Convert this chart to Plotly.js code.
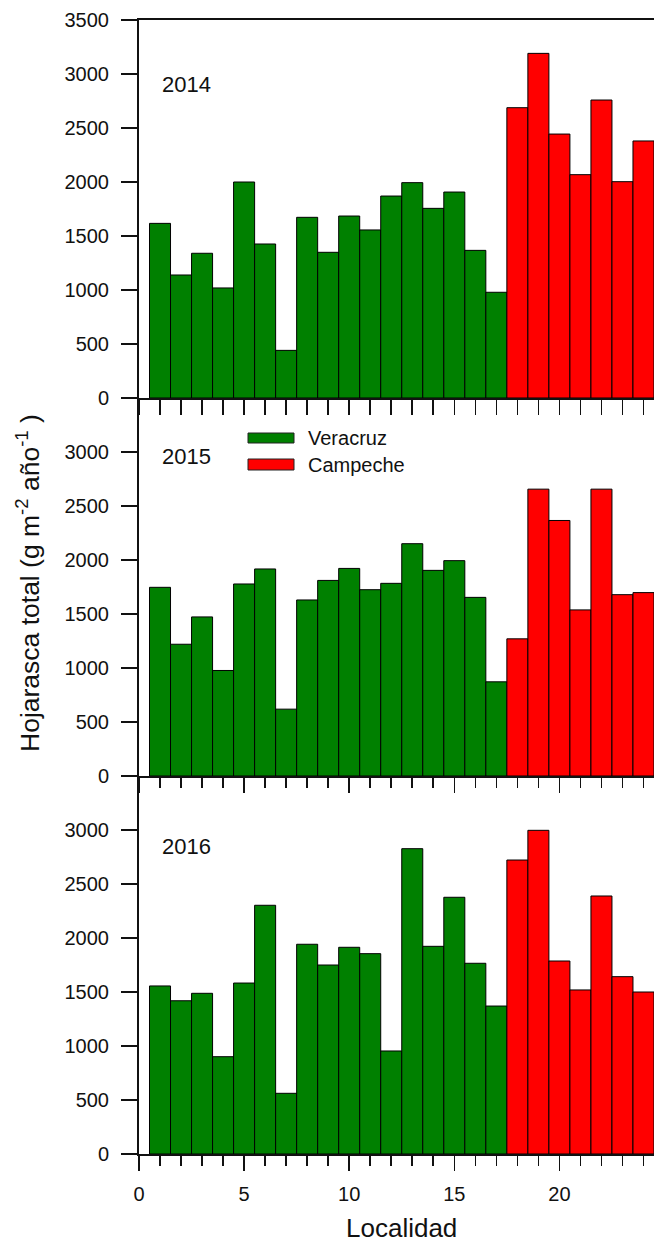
<!DOCTYPE html>
<html>
<head>
<meta charset="utf-8">
<script src="https://cdn.plot.ly/plotly-3.0.1.min.js"></script>
<style>html,body{margin:0;padding:0;background:#fff;}#chart{width:656px;height:1244px;}</style>
</head>
<body>
<div id="chart"></div>
<script>
// ---- data ----
const localidadVeracruz = [1,2,3,4,5,6,7,8,9,10,11,12,13,14,15,16,17];
const localidadCampeche = [18,19,20,21,22,23,24];
const years = ["2014", "2015", "2016"];
const veracruz2014 = [1617,1139,1340,1019,2000,1426,441,1673,1349,1685,1556,1870,1994,1756,1907,1367,979];
const campeche2014 = [2688,3191,2444,2068,2759,2003,2380];
const veracruz2015 = [1747,1220,1473,977,1778,1917,619,1630,1811,1922,1725,1784,2151,1904,1994,1654,872];
const campeche2015 = [1270,2656,2366,1538,2656,1679,1698];
const veracruz2016 = [1556,1419,1488,901,1583,2303,562,1942,1750,1914,1855,954,2827,1923,2377,1766,1370];
const campeche2016 = [2722,2997,1787,1519,2389,1642,1500];
const seriesNames = ["Veracruz", "Campeche"];
const yTicksTop = [0,500,1000,1500,2000,2500,3000,3500];
const yTicksOther = [0,500,1000,1500,2000,2500,3000];
const xTicks = [0,5,10,15,20];

// ---- styling ----
const FONT = "Liberation Sans, Arial, sans-serif";
const GREEN = "#008000", RED = "#ff0000";
const W = 656, H = 1244, ML = 139, MR = 2, MT = 20, MB = 90;
const PW = W - ML - MR, PH = H - MT - MB;
const px = x => (x - ML) / PW;
const py = y => (H - MB - y) / PH;

function bars(x, y, color, xa, ya) {
  return {type: "bar", x: x, y: y, width: 1, xaxis: xa, yaxis: ya,
    marker: {color: color, line: {color: "#000", width: 1}}, showlegend: false, hoverinfo: "x+y"};
}

const data = [
  bars(localidadVeracruz, veracruz2014, GREEN, "x3", "y3"),
  bars(localidadCampeche, campeche2014, RED, "x3", "y3"),
  bars(localidadVeracruz, veracruz2015, GREEN, "x2", "y2"),
  bars(localidadCampeche, campeche2015, RED, "x2", "y2"),
  bars(localidadVeracruz, veracruz2016, GREEN, "x", "y"),
  bars(localidadCampeche, campeche2016, RED, "x", "y")
];

function xaxis(domainAnchor, showLabels, majorLen, minorLen, mirror) {
  return {
    anchor: domainAnchor, range: [0, 24.5], domain: [0, 1],
    tickmode: "array", tickvals: xTicks, ticktext: xTicks.map(String),
    showticklabels: showLabels, ticks: "outside", ticklen: majorLen, tickwidth: 1.6, tickcolor: "#111",
    minor: {tickmode: "linear", tick0: 0, dtick: 1, ticks: "outside", ticklen: minorLen, tickwidth: 1.6, tickcolor: "#111", showgrid: false},
    showline: true, linecolor: "#111", linewidth: 2, mirror: mirror,
    showgrid: false, zeroline: false, fixedrange: true,
    tickfont: {family: FONT, size: 20, color: "#111"}, ticklabelstandoff: 6
  };
}
function yaxis(anchor, domain, ticks) {
  return {
    anchor: anchor, domain: domain, range: [0, 3500],
    tickmode: "array", tickvals: ticks, ticktext: ticks.map(String),
    ticks: "outside", ticklen: 16, tickwidth: 1.6, tickcolor: "#111",
    showline: true, linecolor: "#111", linewidth: 2,
    showgrid: false, zeroline: false, fixedrange: true,
    tickfont: {family: FONT, size: 20, color: "#111"}, ticklabelstandoff: 8
  };
}

const annotations = [];
const labelY = [84, 456, 846];
years.forEach((yr, i) => annotations.push({xref: "paper", yref: "paper", x: px(160), y: py(labelY[i]),
  xanchor: "left", yanchor: "middle", text: yr, showarrow: false, font: {family: FONT, size: 22, color: "#111"}}));
annotations.push({xref: "paper", yref: "paper", x: px(306), y: py(438), xanchor: "left", yanchor: "middle",
  text: seriesNames[0], showarrow: false, font: {family: FONT, size: 20, color: "#111"}});
annotations.push({xref: "paper", yref: "paper", x: px(306), y: py(465), xanchor: "left", yanchor: "middle",
  text: seriesNames[1], showarrow: false, font: {family: FONT, size: 20, color: "#111"}});
annotations.push({xref: "paper", yref: "paper", x: px(28), y: py(583), xanchor: "center", yanchor: "middle",
  textangle: -90, text: "Hojarasca total (g m<sup>-2</sup> año<sup>-1</sup> )", showarrow: false,
  font: {family: FONT, size: 26.5, color: "#111"}});
annotations.push({xref: "paper", yref: "paper", x: px(401), y: py(1228), xanchor: "center", yanchor: "middle",
  text: "Localidad", showarrow: false, font: {family: FONT, size: 26, color: "#111"}});

const shapes = [
  {type: "rect", xref: "paper", yref: "paper", x0: px(248), x1: px(294), y0: py(443), y1: py(433),
   fillcolor: GREEN, line: {color: "#222", width: 1}},
  {type: "rect", xref: "paper", yref: "paper", x0: px(248), x1: px(294), y0: py(470), y1: py(459),
   fillcolor: RED, line: {color: "#222", width: 1}}
];

const layout = {
  width: W, height: H, margin: {l: ML, r: MR, t: MT, b: MB, pad: 0},
  paper_bgcolor: "#fff", plot_bgcolor: "#fff", barmode: "overlay",
  font: {family: FONT, color: "#111"}, showlegend: false,
  xaxis: xaxis("y", true, 15, 10, false),
  xaxis2: xaxis("y2", false, 15, 10, false),
  xaxis3: xaxis("y3", false, 15, 15, true),
  yaxis: yaxis("x", [0, 1/3], yTicksOther),
  yaxis2: yaxis("x2", [1/3, 2/3], yTicksOther),
  yaxis3: yaxis("x3", [2/3, 1], yTicksTop),
  annotations: annotations, shapes: shapes
};

Plotly.newPlot("chart", data, layout, {staticPlot: true, displayModeBar: false});
</script>
</body>
</html>
